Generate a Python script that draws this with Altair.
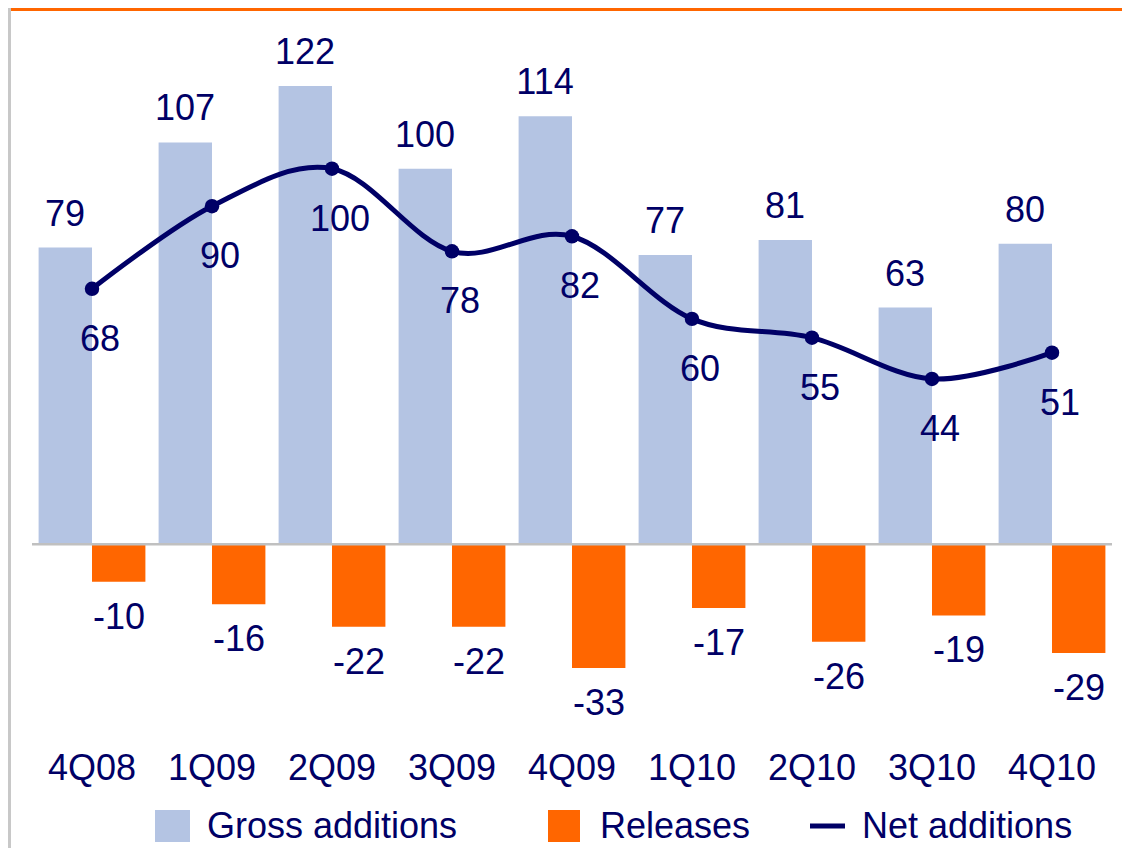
import altair as alt
import pandas as pd

quarters = ["4Q08", "1Q09", "2Q09", "3Q09", "4Q09", "1Q10", "2Q10", "3Q10", "4Q10"]
gross_additions = [79, 107, 122, 100, 114, 77, 81, 63, 80]
releases = [-10, -16, -22, -22, -33, -17, -26, -19, -29]
net_additions = [68, 90, 100, 78, 82, 60, 55, 44, 51]

series_names = ["Gross additions", "Releases", "Net additions"]
series_colors = ["#b4c4e3", "#ff6600", "#000066"]

NAVY = "#000066"
FONT = "Liberation Sans"
FS = 36

bars_df = pd.DataFrame(
    {
        "quarter": quarters * 2,
        "series": ["Gross additions"] * len(quarters) + ["Releases"] * len(quarters),
        "value": gross_additions + releases,
    }
)
gross_df = pd.DataFrame({"quarter": quarters, "value": gross_additions,
                         "label": [str(v) for v in gross_additions]})
rel_df = pd.DataFrame({"quarter": quarters, "value": releases,
                       "label": [str(v) for v in releases]})
net_df = pd.DataFrame({"quarter": quarters, "value": net_additions,
                       "label": [str(v) for v in net_additions]})

xscale = alt.Scale(domain=quarters, paddingInner=0.11, paddingOuter=0.055)
yscale = alt.Scale(domain=[-49.5, 142.8], nice=False, zero=False)

x_enc = alt.X(
    "quarter:N",
    scale=xscale,
    sort=quarters,
    axis=alt.Axis(
        title=None,
        domain=False,
        ticks=False,
        labelAngle=0,
        labelFont=FONT,
        labelFontSize=FS,
        labelColor=NAVY,
        labelPadding=21,
    ),
)
y_enc = alt.Y("value:Q", scale=yscale, axis=None)

bars = (
    alt.Chart(bars_df)
    .mark_bar()
    .encode(
        x=x_enc,
        xOffset=alt.XOffset("series:N", sort=["Gross additions", "Releases"]),
        y=y_enc,
        color=alt.Color(
            "series:N",
            scale=alt.Scale(domain=series_names, range=series_colors),
            legend=None,
        ),
    )
)

baseline = alt.Chart(pd.DataFrame({"v": [0]})).mark_rule(color="#c0c0c0", strokeWidth=2.5).encode(
    y=alt.Y("v:Q", scale=yscale, axis=None)
)

gross_labels = (
    alt.Chart(gross_df)
    .mark_text(font=FONT, fontSize=FS, color=NAVY, dx=-27, dy=-22, baseline="alphabetic", align="center")
    .encode(x=alt.X("quarter:N", sort=quarters), y=y_enc, text="label:N")
)
rel_labels = (
    alt.Chart(rel_df)
    .mark_text(font=FONT, fontSize=FS, color=NAVY, dx=27, dy=47, baseline="alphabetic", align="center")
    .encode(x=alt.X("quarter:N", sort=quarters), y=y_enc, text="label:N")
)

net_line = (
    alt.Chart(net_df)
    .mark_line(color=NAVY, strokeWidth=5, interpolate="cardinal")
    .encode(x=alt.X("quarter:N", sort=quarters), y=y_enc)
)
net_points = (
    alt.Chart(net_df)
    .mark_circle(color=NAVY, opacity=1, size=210)
    .encode(x=alt.X("quarter:N", sort=quarters), y=y_enc)
)
net_labels = (
    alt.Chart(net_df)
    .mark_text(font=FONT, fontSize=FS, color=NAVY, dx=8, dy=51, baseline="middle", align="center")
    .encode(x=alt.X("quarter:N", sort=quarters), y=y_enc, text="label:N")
)

one = pd.DataFrame({"k": [0]})

top_line = alt.Chart(one).mark_rule(color="#ff6600", strokeWidth=3).encode(
    x=alt.value(-22), x2=alt.value(1100), y=alt.value(1.5)
)
left_line = alt.Chart(one).mark_rule(color="#c8c8c8", strokeWidth=3).encode(
    x=alt.value(-22.5), y=alt.value(0), y2=alt.value(850)
)

leg_gross_sw = alt.Chart(one).mark_rect(color=series_colors[0]).encode(
    x=alt.value(123), x2=alt.value(158), y=alt.value(802), y2=alt.value(834)
)
leg_rel_sw = alt.Chart(one).mark_rect(color=series_colors[1]).encode(
    x=alt.value(516), x2=alt.value(548), y=alt.value(802), y2=alt.value(834)
)
leg_net_sw = alt.Chart(one).mark_rule(color=series_colors[2], strokeWidth=5).encode(
    x=alt.value(778), x2=alt.value(813), y=alt.value(818)
)
leg_gross_tx = alt.Chart(one).mark_text(
    font=FONT, fontSize=FS, color=NAVY, align="left", baseline="middle", text=series_names[0]
).encode(x=alt.value(175), y=alt.value(819))
leg_rel_tx = alt.Chart(one).mark_text(
    font=FONT, fontSize=FS, color=NAVY, align="left", baseline="middle", text=series_names[1]
).encode(x=alt.value(568), y=alt.value(819))
leg_net_tx = alt.Chart(one).mark_text(
    font=FONT, fontSize=FS, color=NAVY, align="left", baseline="middle", text=series_names[2]
).encode(x=alt.value(830), y=alt.value(819))

chart = (
    alt.layer(
        top_line,
        left_line,
        bars,
        baseline,
        gross_labels,
        rel_labels,
        net_line,
        net_points,
        net_labels,
        leg_gross_sw,
        leg_rel_sw,
        leg_net_sw,
        leg_gross_tx,
        leg_rel_tx,
        leg_net_tx,
    )
    .properties(
        width=1080,
        height=722,
        autosize=alt.AutoSizeParams(type="none"),
        padding={"left": 24, "top": 0, "right": 10, "bottom": 118},
    )
    .configure_view(stroke=None)
    .configure_scale(offsetBandPaddingInner=0, offsetBandPaddingOuter=0)
)

chart.save("out.html", embed_options={"renderer": "svg", "actions": False})
